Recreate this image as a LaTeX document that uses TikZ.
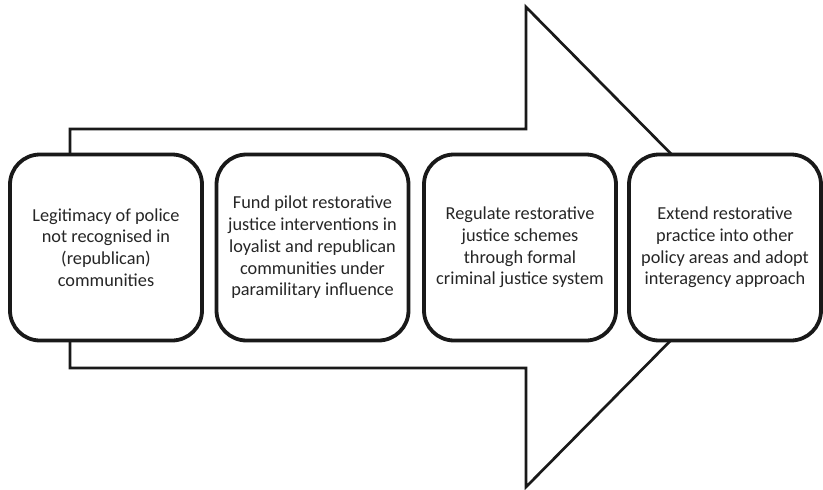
\documentclass[tikz,border=0pt]{standalone}
\usepackage{fontspec}
\setmainfont{Carlito}
\begin{document}
\begin{tikzpicture}[x=1pt,y=-1pt,
  stagebox/.style={draw=black!90, line width=3.8pt, fill=white, rounded corners=30pt,
    minimum width=192pt, minimum height=186pt, align=center, inner sep=0pt,
    font=\fontsize{18.3}{21.7}\selectfont, text=black!85},
  bigarrow/.style={draw=black!90, line width=2.7pt, fill=white, line join=miter}]
\useasboundingbox (0,0) rectangle (823,490);
% large background arrow
\coordinate (a1) at (70,129);
\coordinate (a2) at (526,129);
\coordinate (a3) at (526,7);
\coordinate (tip) at (763,247);
\coordinate (a5) at (526,487);
\coordinate (a6) at (526,368);
\coordinate (a7) at (70,368);
\draw[bigarrow] (a1) -- (a2) -- (a3) -- (tip) -- (a5) -- (a6) -- (a7) -- cycle;
% four stages
\node[stagebox] (s1) at (106,247.5) {Legitimacy of police\\not recognised in\\(republican)\\communities};
\node[stagebox] (s2) at (312.5,247.5) {Fund pilot restorative\\justice interventions in\\loyalist and republican\\communities under\\paramilitary influence};
\node[stagebox] (s3) at (520,247.5) {Regulate restorative\\justice schemes\\through formal\\criminal justice system};
\node[stagebox] (s4) at (725,247.5) {Extend restorative\\practice into other\\policy areas and adopt\\interagency approach};
\end{tikzpicture}
\end{document}
